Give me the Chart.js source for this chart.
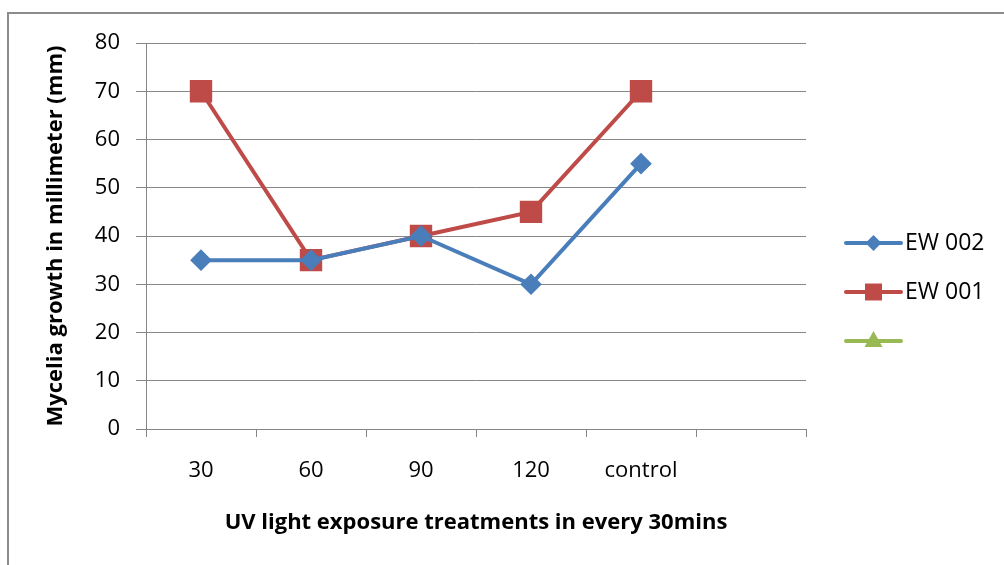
<!DOCTYPE html>
<html>
<head>
<meta charset="utf-8">
<script src="https://cdn.jsdelivr.net/npm/chart.js@4/dist/chart.umd.min.js"></script>
<style>
  html, body { margin: 0; padding: 0; background: #fff; }
  #wrap { position: relative; width: 1004px; height: 565px; overflow: hidden; }
  #frame { position: absolute; left: 7px; top: 12px; width: 1100px; height: 700px; border: 2px solid #8c8c8c; box-sizing: border-box; }
  canvas { position: absolute; left: 0; top: 0; }
</style>
</head>
<body>
<div id="wrap">
  <div id="frame"></div>
  <canvas id="c" width="1004" height="565"></canvas>
</div>
<script>
const categories = ['30', '60', '90', '120', 'control', ''];
const ew002 = [35, 35, 40, 30, 55, null];
const ew001 = [70, 35, 40, 45, 70, null];
const series3 = [null, null, null, null, null, null];
const yTicks = [0, 10, 20, 30, 40, 50, 60, 70, 80];
const seriesNames = ['EW 002', 'EW 001', ''];

const FONT = '"Open Sans", Lato, sans-serif';

const legendPlugin = {
  id: 'sideLegend',
  afterDraw(chart) {
    const ctx = chart.ctx;
    const x0 = 846, x1 = 901, textX = 905;
    const ys = [243, 292, 341];
    ctx.save();
    chart.data.datasets.forEach((ds, i) => {
      const y = ys[i];
      ctx.strokeStyle = ds.borderColor;
      ctx.lineWidth = 4;
      ctx.lineCap = 'round';
      ctx.beginPath(); ctx.moveTo(x0, y); ctx.lineTo(x1, y); ctx.stroke();
      ctx.fillStyle = ds.pointBackgroundColor;
      ctx.beginPath();
      drawMarker(ctx, ds.pointStyle, ds.legendRadius, (x0 + x1) / 2, y);
      ctx.fill();
      if (ds.label) {
        ctx.fillStyle = '#000';
        ctx.font = '23px ' + FONT;
        ctx.textBaseline = 'middle';
        ctx.textAlign = 'left';
        ctx.fillText(ds.label, textX, y);
      }
    });
    ctx.restore();
  }
};
function drawMarker(ctx, style, r, x, y) {
  if (style === 'rect') {
    const s = r * Math.SQRT1_2; ctx.rect(x - s, y - s, 2 * s, 2 * s);
  } else if (style === 'rectRot') {
    ctx.moveTo(x, y - r); ctx.lineTo(x + r, y); ctx.lineTo(x, y + r); ctx.lineTo(x - r, y); ctx.closePath();
  } else if (style === 'triangle') {
    ctx.moveTo(x, y - r); ctx.lineTo(x + r * 0.9, y + r * 0.6); ctx.lineTo(x - r * 0.9, y + r * 0.6); ctx.closePath();
  }
}

new Chart(document.getElementById('c'), {
  type: 'line',
  data: {
    labels: categories,
    datasets: [
      { label: seriesNames[0], data: ew002, borderColor: '#4a7ebb', backgroundColor: '#4a7ebb',
        pointBackgroundColor: '#4a7ebb', pointBorderColor: '#4a7ebb', pointStyle: 'rectRot',
        pointRadius: 8, pointHoverRadius: 8, legendRadius: 8, borderWidth: 4, tension: 0 },
      { label: seriesNames[1], data: ew001, borderColor: '#be4b48', backgroundColor: '#be4b48',
        pointBackgroundColor: '#be4b48', pointBorderColor: '#be4b48', pointStyle: 'rect',
        pointRadius: 13, pointHoverRadius: 13, legendRadius: 12, borderWidth: 4, tension: 0 },
      { label: seriesNames[2], data: series3, borderColor: '#98b954', backgroundColor: '#98b954',
        pointBackgroundColor: '#98b954', pointBorderColor: '#98b954', pointStyle: 'triangle',
        pointRadius: 10, pointHoverRadius: 10, legendRadius: 10, borderWidth: 4, tension: 0 }
    ]
  },
  options: {
    responsive: false,
    animation: false,
    devicePixelRatio: 1,
    layout: { padding: { left: 38, top: 43, right: 198, bottom: 0 } },
    plugins: { legend: { display: false }, tooltip: { enabled: false } },
    scales: {
      x: {
        type: 'category',
        offset: true,
        grid: { offset: true, drawOnChartArea: false, drawTicks: true, tickLength: 8, color: '#868686', lineWidth: 1 },
        border: { display: true, color: '#868686' },
        ticks: { font: { family: FONT, size: 22 }, color: '#000', padding: 21, maxRotation: 0, autoSkip: false },
        title: { display: true, text: 'UV light exposure treatments in every 30mins',
          font: { family: FONT, size: 22, weight: 'bold' }, color: '#000', padding: { top: 0, bottom: 29 } },
        afterFit(scale) { scale.height = 136; }
      },
      y: {
        min: 0, max: 80,
        afterBuildTicks(scale) { scale.ticks = yTicks.map(v => ({ value: v })); },
        grid: { color: '#868686', lineWidth: 1, tickLength: 10, drawTicks: true },
        border: { display: true, color: '#868686' },
        ticks: { font: { family: FONT, size: 22 }, color: '#000', padding: 16 },
        title: { display: true, text: 'Mycelia growth in millimeter (mm)',
          font: { family: FONT, size: 22, weight: 'bold' }, color: '#000', padding: { top: 5, bottom: 0 } },
        afterFit(scale) { scale.width = 146 - 38; }
      }
    }
  },
  plugins: [legendPlugin]
});
</script>
</body>
</html>
